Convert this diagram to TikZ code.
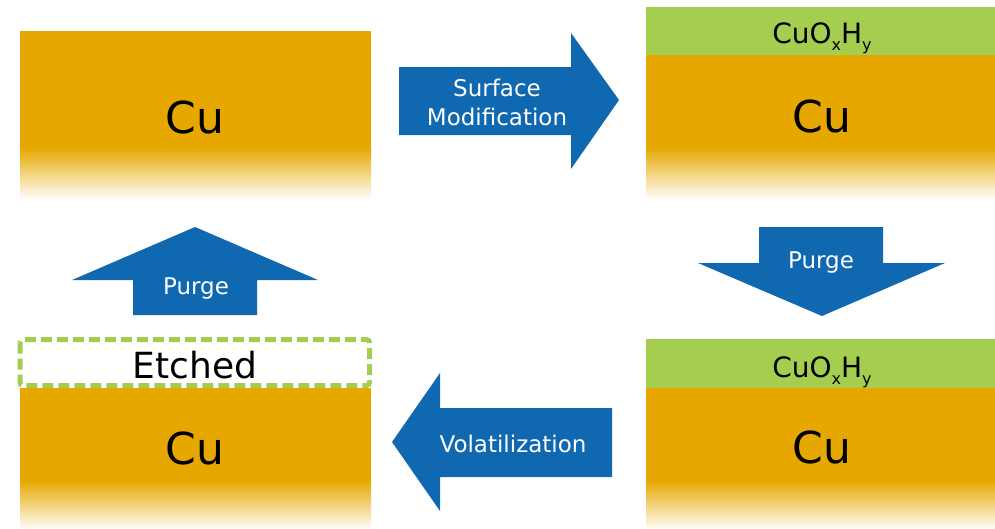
\documentclass[tikz,border=0pt]{standalone}
\usepackage{fontspec}
\setmainfont{DejaVu Sans}
\definecolor{cuorange}{RGB}{230,168,0}
\definecolor{oxgreen}{RGB}{165,205,80}
\definecolor{flowblue}{RGB}{16,104,176}
\newcommand\subsc[1]{\raisebox{-0.26em}{\fontsize{16}{16}\selectfont #1}}
\begin{document}
\begin{tikzpicture}[x=1pt,y=-1pt,
  cusolid/.style={fill=cuorange},
  cufade/.style={top color=cuorange,bottom color=white},
  oxide/.style={fill=oxgreen},
  flow/.style={fill=flowblue},
  flowlbl/.style={text=white,font=\fontsize{23}{23}\selectfont,anchor=base,inner sep=0pt},
  culbl/.style={text=black,font=\fontsize{44}{44}\selectfont,anchor=base,inner sep=0pt},
  etchlbl/.style={text=black,font=\fontsize{36}{36}\selectfont,anchor=base,inner sep=0pt},
  oxlbl/.style={text=black,font=\fontsize{28}{28}\selectfont,anchor=base,inner sep=0pt},
  etchbox/.style={draw=oxgreen,line width=5pt,dash pattern=on 11pt off 5pt,rounded corners=3pt}]
\useasboundingbox (0,0) rectangle (995,528);

% ---- top-left: Cu
\fill[cusolid] (20,31) rectangle (371,148);
\shade[cufade] (20,147.5) rectangle (371,200);
\node[culbl] (cu1) at (195,133) {Cu};

% ---- top-right: oxide + Cu
\fill[oxide] (646,7) rectangle (995,55);
\fill[cusolid] (646,55) rectangle (995,148);
\shade[cufade] (646,147.5) rectangle (995,200);
\node[oxlbl] (ox2) at (822,43) {CuO\subsc{x}H\subsc{y}};
\node[culbl] (cu2) at (822,132) {Cu};

% ---- bottom-right: oxide + Cu
\fill[oxide] (646,339) rectangle (995,388);
\fill[cusolid] (646,388) rectangle (995,481);
\shade[cufade] (646,480.5) rectangle (995,530);
\node[oxlbl] (ox3) at (822,377) {CuO\subsc{x}H\subsc{y}};
\node[culbl] (cu3) at (822,463) {Cu};

% ---- bottom-left: etched + Cu
\fill[cusolid] (20,388) rectangle (371,481);
\shade[cufade] (20,480.5) rectangle (371,530);
\draw[etchbox] (20,339.5) rectangle (369.5,385.5);
\node[etchlbl] (etch) at (195,378) {Etched};
\node[culbl] (cu4) at (195,464) {Cu};

% ---- arrow: Surface Modification (right)
\fill[flow] (399,67) -- (571,67) -- (571,33) -- (619,100) -- (571,169) -- (571,135) -- (399,135) -- cycle;
\node[flowlbl] (sm1) at (497,96) {Surface};
\node[flowlbl] (sm2) at (497,125) {Modification};

% ---- arrow: Purge (down)
\fill[flow] (759,227) -- (883,227) -- (883,263) -- (945,263) -- (822,316) -- (698,263) -- (759,263) -- cycle;
\node[flowlbl] (pg1) at (821,268) {Purge};

% ---- arrow: Volatilization (left)
\fill[flow] (612,408) -- (440,408) -- (440,373) -- (392,442) -- (440,511) -- (440,477) -- (612,477) -- cycle;
\node[flowlbl] (vol) at (513,452) {Volatilization};

% ---- arrow: Purge (up)
\fill[flow] (133,315) -- (257,315) -- (257,280) -- (318,280) -- (195,227) -- (72,280) -- (133,280) -- cycle;
\node[flowlbl] (pg2) at (196,294) {Purge};
\end{tikzpicture}
\end{document}
